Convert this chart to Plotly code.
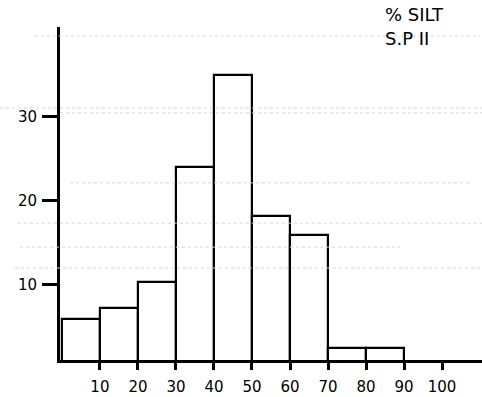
import plotly.graph_objects as go

# Histogram: % silt classes (0-10 ... 80-90), frequency
bin_starts = [0, 10, 20, 30, 40, 50, 60, 70, 80]
bin_width = 10
frequency = [6.0, 7.2, 10.4, 24.0, 35.0, 18.2, 16.0, 2.5, 2.5]
x_ticks = [10, 20, 30, 40, 50, 60, 70, 80, 90, 100]
y_ticks = [10, 20, 30]
title_lines = ["% SILT", "S.P II"]

centers = [s + bin_width / 2 for s in bin_starts]

fig = go.Figure()
fig.add_trace(go.Bar(
    x=centers, y=frequency, width=[bin_width] * len(centers),
    marker=dict(color="white", line=dict(color="black", width=2.2)),
    showlegend=False, hoverinfo="skip",
))

font_family = "DejaVu Sans, Liberation Sans, sans-serif"

fig.update_layout(
    width=482, height=397,
    margin=dict(l=60, r=0, t=27, b=37, autoexpand=False),
    paper_bgcolor="white", plot_bgcolor="white",
    bargap=0,
    font=dict(family=font_family, color="black", size=15),
    xaxis=dict(
        range=[-0.5, 110.5], tickvals=x_ticks, ticktext=[str(v) for v in x_ticks],
        showgrid=False, zeroline=False, showline=True, linecolor="black", linewidth=3,
        ticks="outside", ticklen=7, tickwidth=3, tickcolor="black",
        ticklabelstandoff=4, tickfont=dict(size=15), automargin=False,
    ),
    yaxis=dict(
        range=[1.07, 40.7], tickvals=y_ticks, ticktext=[str(v) for v in y_ticks],
        showgrid=False, zeroline=False, showline=True, linecolor="black", linewidth=3,
        ticks="outside", ticklen=15, tickwidth=3, tickcolor="black",
        ticklabelstandoff=2, tickfont=dict(size=15), automargin=False,
    ),
)

# faint dotted ruled-paper lines from the scanned original
rules = [(0.973, -0.06, 0.995), (0.757, -0.142, 1.0), (0.742, 0.0, 1.0),
         (0.532, 0.024, 0.97), (0.411, -0.10, 1.0), (0.339, -0.095, 0.806),
         (0.276, -0.107, 1.0)]
for yy, x0, x1 in rules:
    fig.add_shape(type="line", xref="paper", yref="paper", x0=x0, x1=x1, y0=yy, y1=yy,
                  line=dict(color="#d4d4d4", width=1, dash="dot"), layer="above")

fig.add_annotation(text=title_lines[0], xref="paper", yref="paper", x=0.839, y=1.039,
                   showarrow=False, font=dict(size=18, family=font_family),
                   xanchor="center", yanchor="middle")
fig.add_annotation(text=title_lines[1], xref="paper", yref="paper", x=0.822, y=0.964,
                   showarrow=False, font=dict(size=18, family=font_family),
                   xanchor="center", yanchor="middle")

fig.write_html("out.html", config={"displayModeBar": False},
               post_script="document.body.style.margin='0px';document.body.style.overflow='hidden';")
